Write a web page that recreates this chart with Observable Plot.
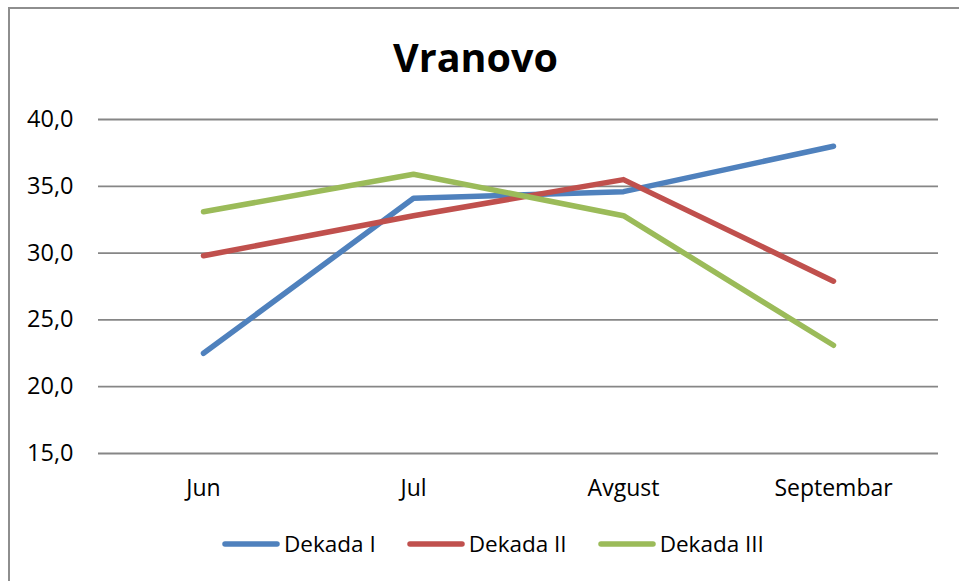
<!DOCTYPE html>
<html>
<head>
<meta charset="utf-8">
<script src="https://cdn.jsdelivr.net/npm/d3@7"></script>
<script src="https://cdn.jsdelivr.net/npm/@observablehq/plot@0.6"></script>
<style>
  html, body { margin: 0; padding: 0; background: #fff; overflow: hidden; }
  #wrap { position: relative; width: 959px; height: 581px; overflow: hidden; font-family: "Open Sans", sans-serif; }
  #frame { position: absolute; left: 8px; top: 7px; width: 1200px; height: 1200px; border-left: 2px solid #8e8e8e; border-top: 2px solid #8e8e8e; box-sizing: border-box; }
  #title { position: absolute; left: 0; width: 951px; top: 31px; text-align: center; font-weight: 700; font-size: 39.5px; line-height: 52px; color: #000; }
  #chart { position: absolute; left: 0; top: 0; }
  #legend { position: absolute; left: 222px; top: 528px; display: flex; align-items: center; font-size: 22.5px; color: #000; }
  .item { display: flex; align-items: center; margin-right: 31px; }
  .item svg { margin-right: 4px; }
</style>
</head>
<body>
<div id="wrap">
  <div id="frame"></div>
  <div id="title">Vranovo</div>
  <div id="chart"></div>
  <div id="legend"></div>
</div>
<script>
const categories = ["Jun", "Jul", "Avgust", "Septembar"];
const seriesNames = ["Dekada I", "Dekada II", "Dekada III"];
const dekadaI = [22.5, 34.1, 34.6, 38.0];
const dekadaII = [29.8, 32.8, 35.5, 27.9];
const dekadaIII = [33.1, 35.9, 32.8, 23.1];
const colors = ["#4F81BD", "#C0504D", "#9BBB59"];
const yTicks = [15, 20, 25, 30, 35, 40];

const seriesValues = [dekadaI, dekadaII, dekadaIII];
const data = [];
seriesNames.forEach((s, i) => {
  categories.forEach((c, j) => data.push({series: s, month: c, value: seriesValues[i][j]}));
});

const fmt = d => d.toFixed(1).replace(".", ",");

const plot = Plot.plot({
  width: 959,
  height: 581,
  marginLeft: 98,
  marginRight: 21,
  marginTop: 119,
  marginBottom: 128,
  style: {fontFamily: "Open Sans, sans-serif", fontSize: "23px", color: "#000", background: "transparent"},
  x: {type: "point", domain: categories, padding: 0.5, label: null},
  y: {domain: [15, 40], label: null},
  color: {domain: seriesNames, range: colors},
  marks: [
    Plot.ruleY(yTicks, {stroke: "#868686", strokeWidth: 1.8}),
    Plot.axisY({ticks: yTicks, tickFormat: fmt, tickSize: 0, tickPadding: 25, label: null, fill: "#000", fontSize: 23.5}),
    Plot.axisX({tickSize: 0, tickPadding: 26, label: null, fill: "#000", fontSize: 23}),
    Plot.line(data, {x: "month", y: "value", z: "series", stroke: "series", strokeWidth: 5.5, strokeLinecap: "round", strokeLinejoin: "round"})
  ]
});
document.getElementById("chart").appendChild(plot);

const legend = document.getElementById("legend");
seriesNames.forEach((s, i) => {
  const item = document.createElement("div");
  item.className = "item";
  item.innerHTML = `<svg width="58" height="10"><line x1="3" y1="5" x2="55" y2="5" stroke="${colors[i]}" stroke-width="5.5" stroke-linecap="round"/></svg><span>${s}</span>`;
  legend.appendChild(item);
});
</script>
</body>
</html>
